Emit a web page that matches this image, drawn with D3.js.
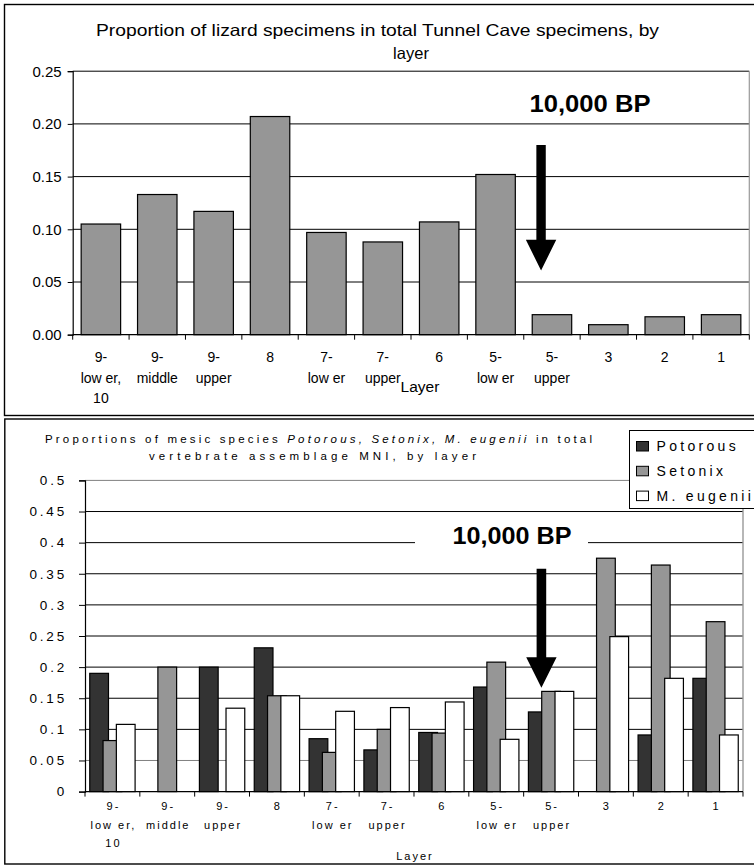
<!DOCTYPE html>
<html><head><meta charset="utf-8">
<script src="https://cdn.jsdelivr.net/npm/d3@7"></script>
<style>body{margin:0;background:#fff} svg{display:block;font-family:"Liberation Sans",Arial,sans-serif}</style>
</head><body><svg id="c" width="754" height="867"></svg>
<script>
// ---------- data ----------
const layers = ["9-\nlow er,\n10","9-\nmiddle","9-\nupper","8","7-\nlow er","7-\nupper","6","5-\nlow er","5-\nupper","3","2","1"];
const lizardProp = [0.105,0.133,0.117,0.207,0.097,0.088,0.107,0.152,0.019,0.0095,0.017,0.019];
const seriesNames = ["Potorous","Setonix","M. eugenii"];
const potorous = [0.19,0,0.2,0.231,0.085,0.067,0.095,0.168,0.128,0,0.091,0.182];
const setonix  = [0.082,0.2,0,0.154,0.063,0.1,0.094,0.208,0.161,0.375,0.364,0.273];
const eugenii  = [0.108,0,0.134,0.154,0.129,0.135,0.144,0.084,0.161,0.249,0.182,0.091];
const topTicks = [0,0.05,0.1,0.15,0.2,0.25];
const bottomTicks = [0,0.05,0.1,0.15,0.2,0.25,0.3,0.35,0.4,0.45,0.5];
const topTitle = ["Proportion of lizard specimens in total Tunnel Cave specimens, by","layer"];
const markerLabel = "10,000 BP";
const markerLayer = "5-\nupper";
const arrowTop = [0.18,0.09,0.061];     // shaft top, head start, tip
const arrowBottom = [0.358,0.216,0.167];

const svg = d3.select("#c");
const seriesFill = ["#333333","#969696","#ffffff"];
const seriesData = [potorous,setonix,eugenii];

// ---------- panel frames ----------
svg.append("rect").attr("x",4.5).attr("y",4.5).attr("width",770).attr("height",411)
  .attr("fill","none").attr("stroke","#000").attr("stroke-width",1.4);
svg.append("rect").attr("x",4.8).attr("y",419).attr("width",770).attr("height",445)
  .attr("fill","none").attr("stroke","#000").attr("stroke-width",1.4);

// ---------- TOP CHART ----------
{
  const x = d3.scaleBand().domain(layers).range([72.7,749.3]).paddingInner(0.3).paddingOuter(0.15);
  const y = d3.scaleLinear().domain([0,0.25]).range([334.7,71.2]);
  const g = svg.append("g");
  const [x0,x1] = x.range();
  g.selectAll("line.grid").data(topTicks.filter(d=>d>0)).join("line")
    .attr("x1",x0).attr("x2",x1).attr("y1",d=>y(d)).attr("y2",d=>y(d))
    .attr("stroke","#000").attr("stroke-width",1);
  g.append("line").attr("x1",x1).attr("x2",x1).attr("y1",y(0.25)).attr("y2",y(0))
    .attr("stroke","#999").attr("stroke-width",1.2);
  g.selectAll("rect.bar").data(lizardProp).join("rect")
    .attr("x",(d,i)=>x(layers[i])).attr("width",x.bandwidth())
    .attr("y",d=>y(d)).attr("height",d=>y(0)-y(d))
    .attr("fill","#969696").attr("stroke","#000").attr("stroke-width",1.2);
  const ya = d3.axisLeft(y).tickValues(topTicks).tickFormat(d3.format(".2f")).tickSize(5).tickPadding(6);
  const yg = g.append("g").attr("transform",`translate(${x0},0)`).call(ya);
  yg.select(".domain").attr("stroke","#000").attr("stroke-width",1.2);
  yg.selectAll("text").attr("font-size",15).attr("fill","#000").attr("font-family","Liberation Sans, Arial");
  g.append("line").attr("x1",x0).attr("x2",x1).attr("y1",y(0)).attr("y2",y(0)).attr("stroke","#000").attr("stroke-width",1.2);
  d3.range(layers.length+1).forEach(i=>{
    const bx = x0 + i*x.step();
    g.append("line").attr("x1",bx).attr("x2",bx).attr("y1",y(0)).attr("y2",y(0)+5).attr("stroke","#000");
  });
  layers.forEach(c=>{
    const t = g.append("text").attr("text-anchor","middle").attr("font-size",14);
    c.split("\n").forEach((s,j)=>t.append("tspan").attr("x",x(c)+x.bandwidth()/2).attr("y",362+j*20.5).text(s));
  });
  g.append("text").attr("x",420).attr("y",391.5).attr("text-anchor","middle").attr("font-size",15.5).text("Layer");
  g.append("text").attr("x",377.5).attr("y",36).attr("text-anchor","middle").attr("font-size",16.5)
    .attr("textLength",563).attr("lengthAdjust","spacingAndGlyphs").text(topTitle[0]);
  g.append("text").attr("x",411).attr("y",59).attr("text-anchor","middle").attr("font-size",16.5).text(topTitle[1]);
  g.append("text").attr("x",590).attr("y",112).attr("text-anchor","middle").attr("font-size",23)
    .attr("font-weight","bold").attr("textLength",121).attr("lengthAdjust","spacingAndGlyphs").text(markerLabel);
  const ax = x(markerLayer) - x.step()*0.15 + 17.3;
  const [a0,a1,a2] = arrowTop.map(y);
  g.append("path").attr("d",`M${ax-4.7},${a0}H${ax+4.7}V${a1}H${ax+15.2}L${ax},${a2}L${ax-15.2},${a1}H${ax-4.7}Z`).attr("fill","#000");
}

// ---------- BOTTOM CHART ----------
{
  const x = d3.scaleBand().domain(layers).range([85,743]).paddingInner(0.173).paddingOuter(0.0866);
  const y = d3.scaleLinear().domain([0,0.5]).range([791.6,480.4]);
  const g = svg.append("g");
  const [x0,x1] = x.range();
  g.selectAll("line.grid").data(bottomTicks.filter(d=>d>0)).join("line")
    .attr("x1",x0).attr("x2",x1).attr("y1",d=>y(d)).attr("y2",d=>y(d))
    .attr("stroke",d=>(d===0.05||d===0.5)?"#808080":"#000").attr("stroke-width",1);
  g.append("line").attr("x1",x1).attr("x2",x1).attr("y1",y(0.5)).attr("y2",y(0))
    .attr("stroke","#999").attr("stroke-width",1.4);
  const groupW = x.bandwidth();
  const barW = groupW/2.42, stepB = barW*0.71;
  layers.forEach((c,i)=>{
    seriesData.forEach((arr,k)=>{
      const v = arr[i];
      if(!v) return;
      g.append("rect").attr("x",x(c)+k*stepB).attr("width",barW)
        .attr("y",y(v)).attr("height",y(0)-y(v))
        .attr("fill",seriesFill[k]).attr("stroke","#000").attr("stroke-width",1.2);
    });
  });
  const ya = d3.axisLeft(y).tickValues(bottomTicks).tickFormat(d=>String(+d.toFixed(2))).tickSize(6).tickPadding(12);
  const yg = g.append("g").attr("transform",`translate(${x0},0)`).call(ya);
  yg.select(".domain").attr("stroke","#000").attr("stroke-width",1.2);
  yg.selectAll("text").attr("font-size",13.5).attr("fill","#000").attr("letter-spacing","2.8px").attr("font-family","Liberation Sans, Arial");
  g.append("line").attr("x1",x0).attr("x2",x1).attr("y1",y(0)).attr("y2",y(0)).attr("stroke","#000").attr("stroke-width",1.2);
  d3.range(layers.length+1).forEach(i=>{
    const bx = x0 + i*x.step();
    g.append("line").attr("x1",bx).attr("x2",bx).attr("y1",y(0)).attr("y2",y(0)+5).attr("stroke","#000");
  });
  layers.forEach(c=>{
    const t = g.append("text").attr("text-anchor","middle").attr("font-size",11).attr("letter-spacing","2px");
    c.split("\n").forEach((s,j)=>t.append("tspan").attr("x",x(c)+groupW/2+1).attr("y",810+j*18.5).text(s));
  });
  g.append("text").attr("x",415).attr("y",860).attr("text-anchor","middle").attr("font-size",11).attr("letter-spacing","2px").text("Layer");
  const t1 = g.append("text").attr("x",318.5).attr("y",443).attr("text-anchor","middle").attr("font-size",11.5)
    .attr("textLength",547).attr("lengthAdjust","spacing");
  t1.append("tspan").text("Proportions of mesic species ");
  t1.append("tspan").attr("font-style","italic").text("Potorous, Setonix, M. eugenii");
  t1.append("tspan").text(" in total");
  g.append("text").attr("x",312.5).attr("y",460).attr("text-anchor","middle").attr("font-size",11.5)
    .attr("textLength",327).attr("lengthAdjust","spacing").text("vertebrate assemblage MNI, by layer");
  g.append("rect").attr("x",415).attr("y",520).attr("width",173).attr("height",36).attr("fill","#fff");
  g.append("text").attr("x",512).attr("y",544).attr("text-anchor","middle").attr("font-size",23)
    .attr("font-weight","bold").attr("textLength",119).attr("lengthAdjust","spacingAndGlyphs").text(markerLabel);
  const ax = x(markerLayer) + 13;
  const [a0,a1,a2] = arrowBottom.map(y);
  g.append("path").attr("d",`M${ax-4.8},${a0}H${ax+4.8}V${a1}H${ax+15.2}L${ax},${a2}L${ax-15.2},${a1}H${ax-4.8}Z`).attr("fill","#000");
  const lg = g.append("g");
  lg.append("rect").attr("x",629.5).attr("y",430.5).attr("width",140).attr("height",78)
    .attr("fill","#fff").attr("stroke","#000").attr("stroke-width",1);
  seriesNames.forEach((s,k)=>{
    const yy = 441 + k*24.8;
    lg.append("rect").attr("x",636.5).attr("y",yy+0.5).attr("width",12).attr("height",9.5)
      .attr("fill",seriesFill[k]).attr("stroke","#000").attr("stroke-width",1);
    lg.append("text").attr("x",656.5).attr("y",yy+10).attr("font-size",14).attr("letter-spacing","3.3px").text(s);
  });
}
</script></body></html>
